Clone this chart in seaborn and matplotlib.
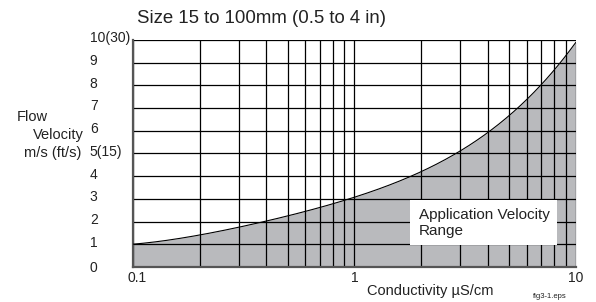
import matplotlib
matplotlib.use("Agg")
import matplotlib.pyplot as plt
import matplotlib.transforms as mtransforms
from matplotlib.patches import Rectangle
import numpy as np
import pandas as pd
import seaborn as sns

sns.set_theme(style="white")
plt.rcParams["font.family"] = ["Liberation Sans", "DejaVu Sans"]

# curve: conductivity (uS/cm) -> max flow velocity (m/s)
conductivity = [0.1, 0.2, 0.3, 0.4, 0.57, 1.0, 1.6, 2.3, 2.9, 4.0, 5.4, 7.1, 8.7, 10.0]
velocity = [1.0, 1.41, 1.76, 2.0, 2.42, 3.05, 3.74, 4.5, 5.0, 6.0, 7.0, 8.0, 9.0, 10.0]

y_ticks = [0, 1, 2, 3, 4, 5, 6, 7, 8, 9, 10]
y_labels = ["0", "1", "2", "3", "4", "5(15)", "6", "7", "8", "9", "10(30)"]
x_ticks = [0.1, 1, 10]
x_labels = ["0.1", "1", "10"]
x_grid = [d * 10.0 ** e for e in (-1, 0) for d in range(1, 10)] + [10]

# smooth the read points in log-x space for drawing
coef = np.polyfit(np.log10(conductivity), velocity, 4)
xs = np.logspace(-1, 1, 300)
ys = np.polyval(coef, np.log10(xs))
curve = pd.DataFrame({"conductivity": xs, "velocity": ys})

fig = plt.figure(figsize=(5.96, 3.02), dpi=100)
ax = fig.add_axes([0.223, 0.116, 0.743, 0.752])

ax.set_xscale("log")
ax.set_xlim(0.1, 10)
ax.set_ylim(0, 10)

ax.fill_between(curve["conductivity"], 0, curve["velocity"],
                color="#b9babd", lw=0, zorder=1)
sns.lineplot(data=curve, x="conductivity", y="velocity", ax=ax,
             color="black", lw=0.8, zorder=3)

for xv in x_grid:
    ax.axvline(xv, color="black", lw=0.9, zorder=2)
for yv in y_ticks[1:]:
    ax.axhline(yv, color="black", lw=0.9, zorder=2)

ax.set_xticks(x_ticks)
ax.set_xticklabels(x_labels)
ax.set_yticks(y_ticks)
ax.set_yticklabels(y_labels, ha="left")
ax.minorticks_off()
ax.tick_params(axis="both", length=0, labelsize=10, colors="#222222")
ax.tick_params(axis="y", pad=31)
ax.tick_params(axis="x", pad=3)
ax.set_xlabel("")
ax.set_ylabel("")

# y labels sit a little above their grid lines in the original
up = mtransforms.ScaledTranslation(0, 3 / 100, fig.dpi_scale_trans)
for lab in ax.get_yticklabels()[1:]:
    lab.set_transform(lab.get_transform() + up)
right = mtransforms.ScaledTranslation(4 / 100, 0, fig.dpi_scale_trans)
ax.get_xticklabels()[0].set_transform(ax.get_xticklabels()[0].get_transform() + right)

for side in ["top", "right"]:
    ax.spines[side].set_visible(False)
for side in ["left", "bottom"]:
    ax.spines[side].set_color("#555555")
    ax.spines[side].set_linewidth(1.6)

ax.add_patch(Rectangle((1.78, 0.97), 8.2 - 1.78, 2.95 - 0.97,
                       fc="white", ec="none", zorder=4))
ax.text(1.95, 1.92, "Application Velocity\nRange", ha="left", va="center",
        fontsize=11, color="#222222", linespacing=1.2, zorder=5)

fig.text(0.23, 0.94, "Size 15 to 100mm (0.5 to 4 in)", fontsize=13.4,
         color="#222222", va="center", ha="left")
fig.text(0.028, 0.612, "Flow", fontsize=10.5, color="#222222", va="center")
fig.text(0.055, 0.553, "Velocity", fontsize=10.5, color="#222222", va="center")
fig.text(0.04, 0.495, "m/s (ft/s)", fontsize=10.5, color="#222222", va="center")
fig.text(0.722, 0.035, "Conductivity \u00b5S/cm", fontsize=10.5, color="#222222",
         ha="center", va="center")
fig.text(0.894, 0.017, "fig3-1.eps", fontsize=5.5, color="#222222",
         ha="left", va="center")

fig.savefig("out.png", dpi=100, facecolor="white")
